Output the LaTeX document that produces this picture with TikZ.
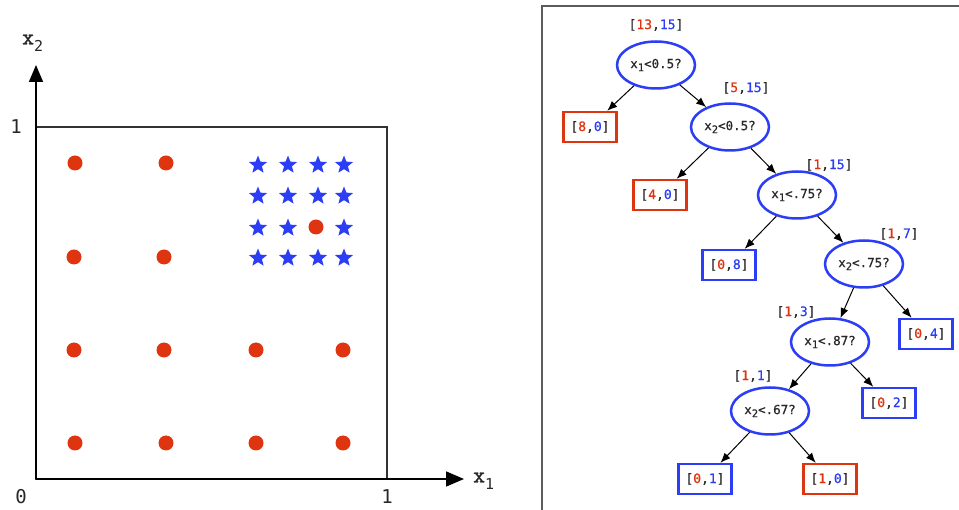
\documentclass[tikz,border=0pt]{standalone}
\usepackage{fontspec}
\setmonofont{DejaVu Sans Mono}
\newfontfamily\tmono[FakeBold=0.7]{DejaVu Sans Mono}
\newfontfamily\xmono[FakeBold=1.6]{Latin Modern Mono}
\usetikzlibrary{shapes.geometric,arrows.meta}
\definecolor{cred}{RGB}{222,52,16}
\definecolor{cblue}{RGB}{44,62,245}
\definecolor{cframe}{RGB}{50,50,50}
\definecolor{ctext}{RGB}{40,40,40}
\newcommand{\subx}[1]{\raisebox{-0.45ex}{\fontsize{10.5}{10.5}\selectfont #1}}
\newcommand{\axlabx}[1]{{\xmono\fontsize{23}{23}\selectfont x}\raisebox{-7pt}{\ttfamily\fontsize{15}{15}\selectfont #1}}
\newcommand{\cnt}[2]{[\textcolor{cred}{#1},\textcolor{cblue}{#2}]}
\begin{document}
\begin{tikzpicture}[x=1pt,y=-1pt,
  font=\tmono\fontsize{12.5}{12.5}\selectfont,
  dec/.style={ellipse, draw=cblue, line width=2.5pt, minimum width=78pt, minimum height=47pt, inner sep=0pt, text=ctext},
  leafr/.style={draw=cred, line width=2.4pt, minimum width=53pt, minimum height=30pt, inner sep=0pt, font=\tmono\fontsize{13}{13}\selectfont, text=ctext},
  leafb/.style={leafr, draw=cblue},
  cntlab/.style={inner sep=0pt, font=\tmono\fontsize{13}{13}\selectfont, text=ctext},
  edge/.style={-{Latex[length=10pt,width=8pt]}, line width=1pt},
  axis/.style={line width=1.6pt, draw=black},
  axlab/.style={inner sep=0pt, font=\ttfamily\fontsize{19}{19}\selectfont, text=ctext},
  rdot/.style={circle, fill=cred, minimum size=15pt, inner sep=0pt},
  bstar/.style={star, star points=5, star point ratio=2.3, fill=cblue, minimum size=19pt, inner sep=0pt}
]
\useasboundingbox (0,0) rectangle (959,510);
\fill[white] (0,0) rectangle (959,510);

% ---------- left panel ----------
\coordinate (o) at (36,479);
\coordinate (ytip) at (36,65);
\coordinate (xtip) at (464,479);
\draw[line width=1.6pt, draw=cframe] (36,127) rectangle (387,479);
\draw[axis, -{Triangle[length=17pt,width=14pt]}] (o) -- (ytip);
\draw[axis, -{Triangle[length=18pt,width=15pt]}] (o) -- (xtip);
\node[axlab, anchor=west] (lx2) at (22,43) {\axlabx{2}};
\node[axlab, anchor=west] (lx1) at (473,481) {\axlabx{1}};
\node[axlab] (ly1) at (16,127) {1};
\node[axlab] (l0) at (21,497) {0};
\node[axlab] (lx1v) at (387,497) {1};

% red dots
\foreach \x/\y [count=\i] in {75/163,166/163,74/257,164/257,74/350,164/350,256/350,343/350,75/443,166/443,256/443,343/443,316/227}
  \node[rdot] (d\i) at (\x,\y) {};
% blue stars
\foreach \x/\y [count=\i] in {258/165,288/165,318/165,344/165,258/196,288/196,318/196,344/196,258/228,288/228,344/228,258/258,288/258,318/258,344/258}
  \node[bstar] (s\i) at (\x,\y) {};

% ---------- right panel ----------
\draw[line width=1.3pt, draw=cframe!80] (542,510) -- (542,6) -- (959,6);

\node[dec] (n1) at (656,65) {x\subx{1}<0.5?};
\node[dec] (n2) at (730,127) {x\subx{2}<0.5?};
\node[dec] (n3) at (797,195) {x\subx{1}<.75?};
\node[dec] (n4) at (864,264) {x\subx{2}<.75?};
\node[dec] (n5) at (830,342) {x\subx{1}<.87?};
\node[dec] (n6) at (770,411) {x\subx{2}<.67?};

\node[leafr] (l1) at (590,127) {\cnt{8}{0}};
\node[leafr] (l2) at (660,195) {\cnt{4}{0}};
\node[leafb] (l3) at (729,265) {\cnt{0}{8}};
\node[leafb] (l4) at (926,334) {\cnt{0}{4}};
\node[leafb] (l5) at (889,403) {\cnt{0}{2}};
\node[leafb] (l6) at (705,479) {\cnt{0}{1}};
\node[leafr] (l7) at (830,479) {\cnt{1}{0}};

\node[cntlab] (c1) at (656,25) {\cnt{13}{15}};
\node[cntlab] (c2) at (746,88) {\cnt{5}{15}};
\node[cntlab] (c3) at (829,165) {\cnt{1}{15}};
\node[cntlab] (c4) at (899,234) {\cnt{1}{7}};
\node[cntlab] (c5) at (796,312) {\cnt{1}{3}};
\node[cntlab] (c6) at (753,376) {\cnt{1}{1}};

\draw[edge] (n1) -- (l1);
\draw[edge] (n1) -- (n2);
\draw[edge] (n2) -- (l2);
\draw[edge] (n2) -- (n3);
\draw[edge] (n3) -- (l3);
\draw[edge] (n3) -- (n4);
\draw[edge] (n4) -- (n5);
\draw[edge] (n4) -- (l4);
\draw[edge] (n5) -- (n6);
\draw[edge] (n5) -- (l5);
\draw[edge] (n6) -- (l6);
\draw[edge] (n6) -- (l7);
\end{tikzpicture}
\end{document}
